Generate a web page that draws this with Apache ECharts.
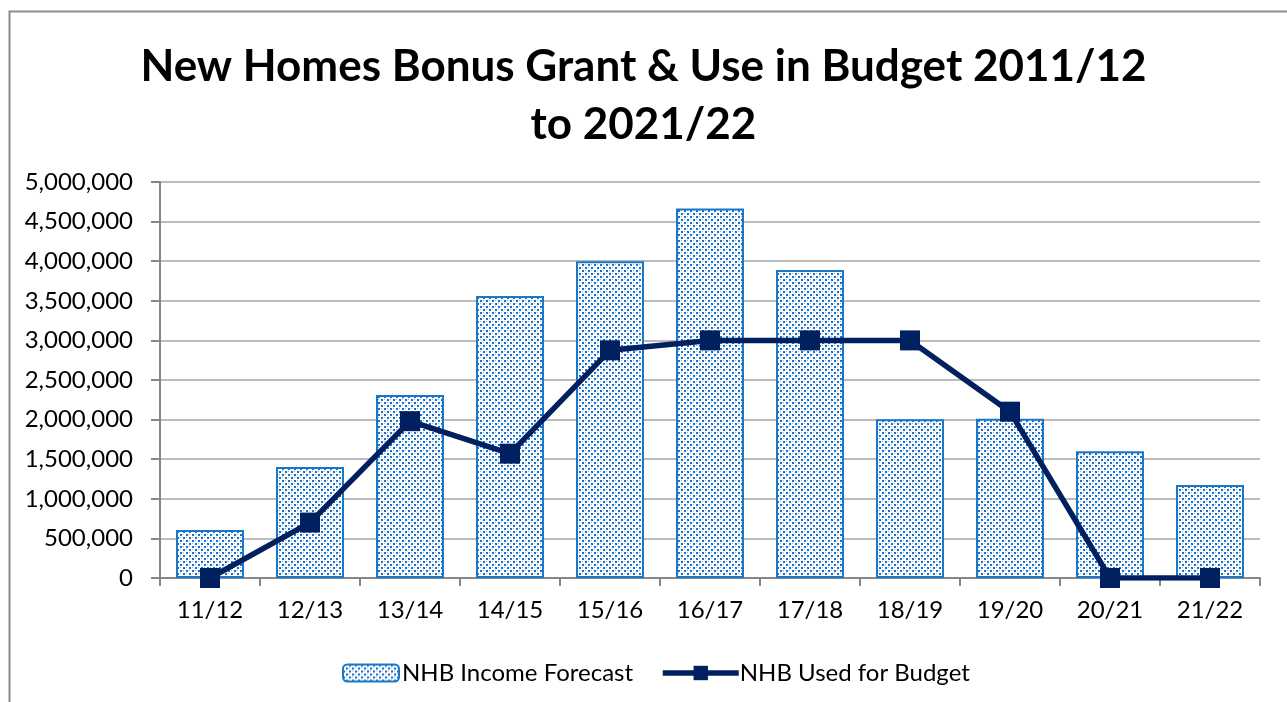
<!DOCTYPE html>
<html>
<head>
<meta charset="utf-8">
<script src="https://cdn.jsdelivr.net/npm/echarts@6/dist/echarts.min.js"></script>
<style>
html,body{margin:0;padding:0;background:#fff;}
#chart{width:1287px;height:702px;}
</style>
</head>
<body>
<div id="chart"></div>
<script>
const categories = ['11/12','12/13','13/14','14/15','15/16','16/17','17/18','18/19','19/20','20/21','21/22'];
const incomeForecast = [605000, 1400000, 2310000, 3560000, 4000000, 4665000, 3890000, 2005000, 2010000, 1600000, 1175000];
const usedForBudget = [0, 700000, 1980000, 1570000, 2875000, 3000000, 3000000, 3000000, 2100000, 0, 0];
const seriesNames = ['NHB Income Forecast', 'NHB Used for Budget'];
const titleText = 'New Homes Bonus Grant & Use in Budget 2011/12\nto 2021/22';

function makePattern() {
  const c = document.createElement('canvas');
  c.width = 6; c.height = 6;
  const g = c.getContext('2d');
  g.fillStyle = '#ffffff';
  g.fillRect(0, 0, 6, 6);
  g.fillStyle = '#1a6fc8';
  g.fillRect(0, 0, 2, 2);
  g.fillRect(3, 3, 2, 2);
  g.fillStyle = '#7fb6ea';
  g.fillRect(3, 0, 1, 1);
  g.fillRect(0, 3, 1, 1);
  return c;
}
const pattern = makePattern();

const FONT = 'Lato';
const chart = echarts.init(document.getElementById('chart'));
chart.setOption({
  backgroundColor: '#ffffff',
  animation: false,
  textStyle: { fontFamily: FONT },
  graphic: [{
    type: 'rect',
    shape: { x: 9.5, y: 11.5, width: 1400, height: 800 },
    style: { fill: 'none', stroke: '#8c8c8c', lineWidth: 2 },
    silent: true
  }],
  title: {
    text: titleText,
    left: 'center',
    top: 33,
    textStyle: { fontFamily: FONT, fontSize: 44, fontWeight: 'bold', color: '#000', lineHeight: 58 }
  },
  legend: [{
    data: [seriesNames[0]],
    left: 337,
    top: 656,
    itemWidth: 56,
    itemHeight: 17,
    textStyle: { fontFamily: FONT, fontSize: 24, color: '#000', padding: [0, 0, 0, -2] }
  }, {
    data: [seriesNames[1]],
    left: 655,
    top: 656,
    itemWidth: 76,
    itemHeight: 18,
    lineStyle: { width: 5.5 },
    textStyle: { fontFamily: FONT, fontSize: 24, color: '#000', padding: [0, 0, 0, -4] }
  }],
  grid: { left: 160, right: 27, top: 182, bottom: 124 },
  xAxis: {
    type: 'category',
    data: categories,
    axisLine: { lineStyle: { color: '#868686', width: 2 } },
    axisTick: { show: true, alignWithLabel: false, length: 8, lineStyle: { color: '#868686', width: 2 } },
    axisLabel: { fontFamily: FONT, fontSize: 24, color: '#000', margin: 20 }
  },
  yAxis: {
    type: 'value',
    min: 0,
    max: 5000000,
    interval: 500000,
    axisLine: { show: true, lineStyle: { color: '#868686', width: 2 } },
    axisTick: { show: true, length: 9, lineStyle: { color: '#868686', width: 2 } },
    splitLine: { lineStyle: { color: '#a6a6a6', width: 1.5 } },
    axisLabel: {
      fontFamily: FONT, fontSize: 24, color: '#000', margin: 27,
      formatter: v => v.toLocaleString('en-US')
    }
  },
  series: [
    {
      name: seriesNames[0],
      type: 'bar',
      data: incomeForecast,
      barWidth: 68,
      itemStyle: {
        color: { image: pattern, repeat: 'repeat' },
        borderColor: '#1a78c8',
        borderWidth: 2
      }
    },
    {
      name: seriesNames[1],
      type: 'line',
      data: usedForBudget,
      symbol: 'rect',
      symbolSize: 20,
      lineStyle: { color: '#002060', width: 5.5 },
      itemStyle: { color: '#002060' },
      z: 5
    }
  ]
});
</script>
</body>
</html>
